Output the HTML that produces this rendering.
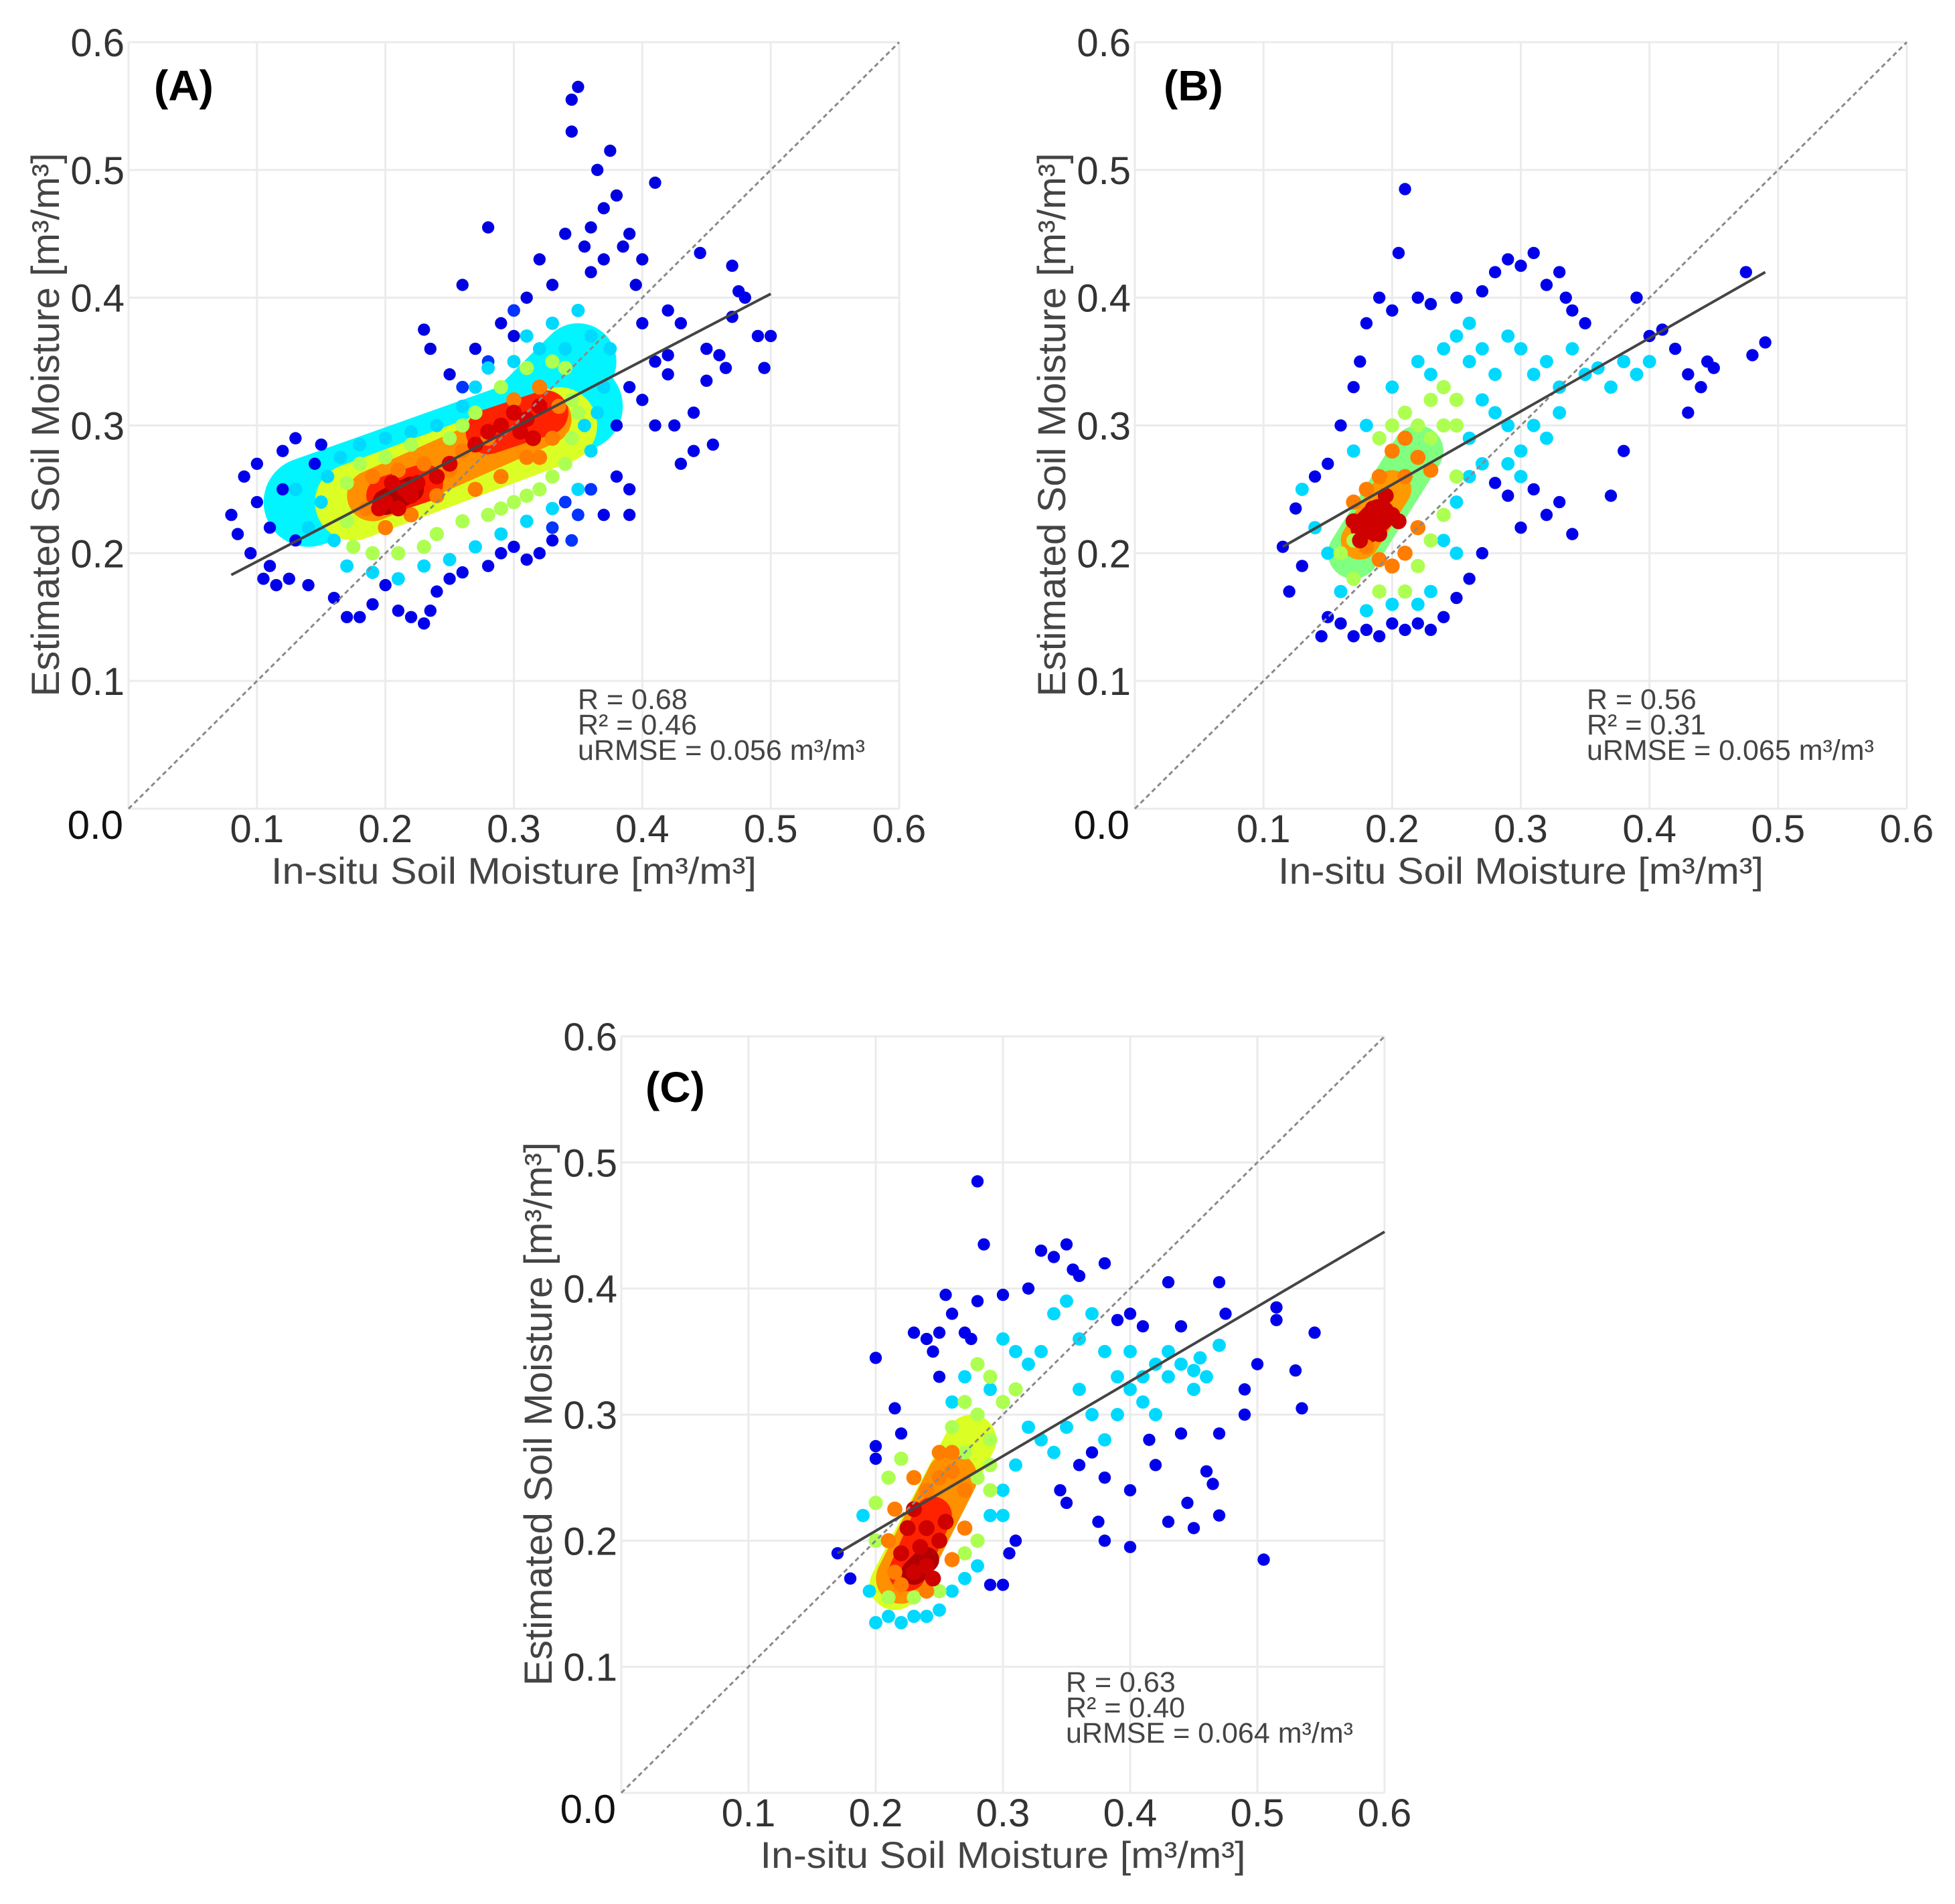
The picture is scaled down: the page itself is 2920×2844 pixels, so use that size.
<!DOCTYPE html>
<html><head><meta charset="utf-8"><style>
html,body{margin:0;padding:0;background:#fff;}
svg{display:block;font-family:"Liberation Sans",Arial,sans-serif;}
</style></head><body>
<svg id="fig" width="2920" height="2844" viewBox="0 0 2920 2844" xmlns="http://www.w3.org/2000/svg"></svg>
<script>
// ---------- Panel A data ----------
const xA=[0.08,0.085,0.09,0.095,0.10,0.10,0.105,0.11,0.11,0.115,0.12,0.12,0.125,0.13,0.13,0.14,0.145,0.15,
0.16,0.17,0.18,0.19,0.20,0.21,0.22,0.23,0.235,0.25,0.24,0.26,0.28,0.29,0.30,0.31,0.32,0.33,
0.23,0.235,0.26,0.28,0.25,0.27,0.29,0.3,0.31,0.32,0.33,0.34,0.345,0.35,0.345,0.355,0.36,0.365,0.37,0.375,0.38,0.385,0.39,0.40,0.41,0.395,0.37,0.36,
0.40,0.41,0.42,0.42,0.425,0.43,0.44,0.445,0.45,0.45,0.455,0.46,0.465,0.47,0.47,0.475,0.48,0.49,0.495,0.5,0.44,0.43,0.39,0.39,0.38,0.37,0.38,0.39,0.40,0.41,0.42,
0.33,0.34,0.35,0.36,0.345,0.28,0.26,0.3,
0.13,0.14,0.15,0.155,0.16,0.165,0.17,0.18,0.19,0.2,0.21,0.22,0.23,0.24,0.25,0.26,0.27,0.27,0.28,0.29,0.30,0.31,0.32,0.33,0.34,0.35,0.36,0.36,0.37,0.375,0.35,0.33,0.31,0.355,0.365,
0.17,0.17,0.175,0.18,0.19,0.2,0.21,0.22,0.23,0.24,0.25,0.26,0.26,0.27,0.28,0.29,0.30,0.31,0.32,0.33,0.34,0.345,0.345,0.34,0.33,0.31,0.29,0.35,
0.185,0.19,0.2,0.21,0.22,0.23,0.24,0.25,0.26,0.27,0.28,0.29,0.30,0.31,0.32,0.33,0.335,0.32,
0.20,0.205,0.21,0.215,0.225,0.22,0.195,0.29,0.30,0.31,0.32,0.305,0.24,0.27,0.28,0.25,0.315];
const yA=[0.23,0.215,0.26,0.20,0.27,0.24,0.18,0.22,0.19,0.175,0.28,0.25,0.18,0.21,0.29,0.175,0.27,0.285,
0.165,0.15,0.15,0.16,0.175,0.155,0.15,0.145,0.155,0.18,0.17,0.185,0.19,0.2,0.205,0.195,0.2,0.21,
0.375,0.36,0.41,0.455,0.34,0.36,0.38,0.37,0.4,0.43,0.41,0.45,0.555,0.565,0.53,0.44,0.42,0.50,0.47,0.515,0.48,0.44,0.45,0.43,0.49,0.41,0.43,0.455,
0.38,0.35,0.39,0.34,0.30,0.27,0.31,0.435,0.36,0.335,0.285,0.355,0.345,0.425,0.385,0.405,0.4,0.37,0.345,0.37,0.28,0.38,0.25,0.23,0.26,0.23,0.30,0.33,0.32,0.30,0.355,
0.22,0.24,0.23,0.25,0.21,0.35,0.33,0.39,
0.25,0.22,0.24,0.26,0.21,0.275,0.19,0.285,0.185,0.29,0.18,0.295,0.19,0.30,0.195,0.315,0.205,0.33,0.345,0.215,0.35,0.225,0.36,0.235,0.36,0.25,0.37,0.28,0.33,0.36,0.39,0.38,0.37,0.30,0.31,
0.225,0.255,0.205,0.27,0.2,0.275,0.2,0.285,0.205,0.215,0.29,0.225,0.30,0.31,0.23,0.235,0.24,0.245,0.25,0.26,0.27,0.29,0.32,0.345,0.35,0.345,0.33,0.31,
0.235,0.26,0.22,0.265,0.23,0.27,0.245,0.265,0.28,0.25,0.29,0.26,0.32,0.275,0.33,0.29,0.315,0.275,
0.24,0.255,0.235,0.25,0.255,0.245,0.235,0.3,0.31,0.305,0.315,0.295,0.26,0.285,0.295,0.27,0.29];
const dA=[].concat(Array(18).fill(0.06),Array(18).fill(0.06),Array(28).fill(0.05),Array(31).fill(0.06),Array(8).fill(0.14),
Array(35).fill(0.32),Array(28).fill(0.55),Array(18).fill(0.78),Array(17).fill(0.96));
const lineA=[[0.08,0.183],[0.5,0.403]];
// density regions: [x1,y1,x2,y2,width(data),level]
const denA=[[0.14,0.24,0.35,0.315,0.07,0.35],[0.31,0.31,0.35,0.35,0.06,0.35],
[0.175,0.24,0.335,0.30,0.06,0.6],[0.19,0.245,0.325,0.305,0.04,0.76],
[0.2,0.245,0.23,0.255,0.03,0.88],[0.28,0.295,0.325,0.31,0.035,0.88],[0.2,0.24,0.22,0.25,0.02,1.0]];

// ---------- Panel B data ----------
const xB=[0.115,0.12,0.125,0.13,0.14,0.15,0.16,0.17,0.175,0.18,0.19,0.2,0.205,0.21,0.22,0.23,0.25,0.27,0.28,0.29,0.3,0.31,0.32,0.33,0.335,0.34,0.35,0.39,0.4,0.41,0.42,0.43,0.44,0.445,0.43,0.45,0.475,0.48,0.49,0.38,0.37,0.34,0.33,0.32,0.31,0.3,0.29,0.28,0.27,0.26,0.25,0.24,0.23,0.22,0.21,0.2,0.19,0.18,0.17,0.16,0.15,0.145,
0.25,0.26,0.27,0.28,0.29,0.3,0.31,0.32,0.33,0.34,0.35,0.36,0.37,0.38,0.39,0.4,0.3,0.31,0.32,0.33,0.29,0.28,0.27,0.3,0.29,0.27,0.26,0.24,0.25,0.23,0.22,0.2,0.18,0.16,0.15,0.14,0.13,0.26,0.24,0.23,0.22,0.2,0.18,0.17,0.26,0.25,
0.23,0.24,0.25,0.21,0.2,0.19,0.22,0.24,0.25,0.23,0.22,0.21,0.19,0.17,0.16,0.17,0.24,0.23,0.25,
0.2,0.21,0.22,0.23,0.21,0.19,0.18,0.17,0.22,0.21,0.19,0.18,0.2,
0.17,0.18,0.185,0.19,0.2,0.195,0.175,0.205];
const yB=[0.205,0.17,0.235,0.19,0.26,0.27,0.30,0.33,0.35,0.38,0.40,0.39,0.435,0.485,0.40,0.395,0.40,0.405,0.42,0.43,0.425,0.435,0.41,0.42,0.40,0.39,0.38,0.40,0.37,0.375,0.36,0.34,0.33,0.35,0.31,0.345,0.42,0.355,0.365,0.28,0.245,0.215,0.24,0.23,0.25,0.22,0.245,0.255,0.2,0.18,0.165,0.15,0.14,0.145,0.14,0.145,0.135,0.14,0.135,0.145,0.15,0.135,
0.37,0.38,0.36,0.34,0.37,0.36,0.34,0.35,0.33,0.36,0.34,0.345,0.33,0.35,0.34,0.35,0.28,0.3,0.29,0.31,0.3,0.31,0.32,0.26,0.27,0.27,0.29,0.21,0.2,0.17,0.16,0.16,0.155,0.17,0.2,0.22,0.25,0.35,0.36,0.34,0.35,0.33,0.30,0.28,0.26,0.24,
0.32,0.33,0.32,0.31,0.3,0.29,0.30,0.30,0.30,0.29,0.19,0.17,0.17,0.18,0.2,0.21,0.23,0.21,0.26,
0.28,0.29,0.275,0.265,0.26,0.26,0.25,0.24,0.22,0.2,0.195,0.205,0.19,
0.225,0.22,0.235,0.215,0.23,0.245,0.21,0.225];
const dB=[].concat(Array(62).fill(0.06),Array(46).fill(0.32),Array(19).fill(0.55),Array(13).fill(0.78),Array(8).fill(0.97));
const lineB=[[0.115,0.205],[0.49,0.42]];
const denB=[[0.17,0.2,0.22,0.28,0.04,0.5],[0.175,0.21,0.2,0.25,0.03,0.75],[0.18,0.22,0.19,0.23,0.025,0.97]];

// ---------- Panel C data ----------
const xC=[0.17,0.18,0.2,0.2,0.2,0.215,0.22,0.23,0.24,0.245,0.25,0.25,0.255,0.26,0.27,0.275,0.28,0.28,0.285,0.3,0.32,0.33,0.34,0.35,0.355,0.36,0.38,0.39,0.4,0.41,0.43,0.44,0.47,0.475,0.5,0.515,0.515,0.53,0.535,0.545,0.49,0.49,0.47,0.46,0.465,0.47,0.45,0.445,0.43,0.4,0.38,0.375,0.38,0.4,0.42,0.415,0.44,0.345,0.35,0.305,0.31,0.29,0.3,0.505,0.36,0.37,
0.3,0.31,0.32,0.33,0.34,0.35,0.36,0.37,0.38,0.39,0.4,0.41,0.42,0.43,0.44,0.45,0.46,0.455,0.47,0.42,0.41,0.39,0.38,0.37,0.36,0.35,0.34,0.33,0.32,0.31,0.3,0.29,0.3,0.28,0.27,0.26,0.25,0.24,0.23,0.22,0.21,0.2,0.195,0.19,0.26,0.27,0.29,0.4,0.43,0.45,
0.28,0.29,0.27,0.28,0.3,0.29,0.26,0.27,0.29,0.28,0.29,0.27,0.28,0.25,0.23,0.21,0.2,0.2,0.21,0.22,0.31,
0.27,0.26,0.25,0.24,0.23,0.215,0.21,0.215,0.22,0.24,0.26,0.27,0.26,0.25,
0.225,0.23,0.235,0.24,0.245,0.23,0.25,0.255,0.24,0.22];
const yC=[0.19,0.17,0.345,0.275,0.265,0.305,0.285,0.365,0.36,0.35,0.33,0.365,0.395,0.38,0.365,0.36,0.39,0.485,0.435,0.395,0.4,0.43,0.425,0.435,0.415,0.41,0.42,0.375,0.38,0.37,0.405,0.37,0.405,0.38,0.34,0.385,0.375,0.335,0.305,0.365,0.30,0.32,0.285,0.255,0.245,0.22,0.21,0.23,0.215,0.195,0.2,0.215,0.25,0.24,0.26,0.28,0.285,0.24,0.23,0.19,0.2,0.165,0.165,0.185,0.26,0.27,
0.36,0.35,0.34,0.35,0.38,0.39,0.36,0.38,0.35,0.33,0.32,0.33,0.34,0.33,0.34,0.335,0.33,0.345,0.355,0.3,0.31,0.3,0.28,0.3,0.32,0.29,0.27,0.28,0.29,0.26,0.24,0.22,0.22,0.18,0.17,0.16,0.145,0.14,0.14,0.135,0.14,0.135,0.16,0.22,0.31,0.33,0.32,0.35,0.35,0.32,
0.34,0.33,0.31,0.30,0.31,0.28,0.29,0.27,0.26,0.25,0.24,0.19,0.2,0.16,0.155,0.155,0.2,0.23,0.25,0.265,0.32,
0.24,0.255,0.25,0.24,0.25,0.225,0.2,0.175,0.165,0.16,0.185,0.21,0.27,0.27,
0.21,0.225,0.195,0.18,0.17,0.175,0.2,0.215,0.21,0.19];
const dC=[].concat(Array(66).fill(0.06),Array(50).fill(0.32),Array(21).fill(0.55),Array(14).fill(0.78),Array(10).fill(0.97));
const lineC=[[0.17,0.19],[0.6,0.445]];
const denC=[[0.215,0.165,0.275,0.28,0.04,0.6],[0.22,0.17,0.26,0.25,0.04,0.76],[0.225,0.175,0.245,0.22,0.03,0.88],[0.23,0.175,0.24,0.185,0.02,1.0]];

const ticks=[0.1,0.2,0.3,0.4,0.5,0.6];
const tickLabels=["0.1","0.2","0.3","0.4","0.5","0.6"];
const statsA=["R = 0.68","R² = 0.46","uRMSE = 0.056 m³/m³"];
const statsB=["R = 0.56","R² = 0.31","uRMSE = 0.065 m³/m³"];
const statsC=["R = 0.63","R² = 0.40","uRMSE = 0.064 m³/m³"];

const NS="http://www.w3.org/2000/svg";
const svg=document.getElementById('fig');
function mk(tag,attrs,parent){const e=document.createElementNS(NS,tag);for(const k in attrs)e.setAttribute(k,attrs[k]);(parent||svg).appendChild(e);return e;}
function jet(v){
  const r=Math.min(1,Math.max(0,1.5-Math.abs(4*v-3)));
  const g=Math.min(1,Math.max(0,1.5-Math.abs(4*v-2)));
  const b=Math.min(1,Math.max(0,1.5-Math.abs(4*v-1)));
  return `rgb(${Math.round(r*255)},${Math.round(g*255)},${Math.round(b*255)})`;
}
function panel(cfg){
  const g=mk('g',{});
  
  
  const sx=v=>cfg.x0+(cfg.x1-cfg.x0)*v/0.6;
  const sy=v=>cfg.y0-(cfg.y0-cfg.y1)*v/0.6;
  const grid=mk('g',{},g);
  
  
  ticks.forEach(t=>{
    mk('line',{x1:sx(t),x2:sx(t),y1:sy(0),y2:sy(0.6),stroke:'#ebebeb','stroke-width':3},grid);
    mk('line',{x1:sx(0),x2:sx(0.6),y1:sy(t),y2:sy(t),stroke:'#ebebeb','stroke-width':3},grid);
  });
  mk('line',{x1:sx(0),x2:sx(0),y1:sy(0),y2:sy(0.6),stroke:'#ebebeb','stroke-width':3},grid);
  mk('line',{x1:sx(0),x2:sx(0.6),y1:sy(0),y2:sy(0),stroke:'#ebebeb','stroke-width':3},grid);
  const dg=mk('g',{},g);
  
  
  const py=(cfg.y0-cfg.y1)/0.6;
  cfg.den.forEach(d=>{
    const l=mk('line',{x1:sx(d[0]),y1:sy(d[1]),x2:sx(d[2]),y2:sy(d[3]),stroke:jet(0.05+d[5]*0.9),'stroke-width':d[4]*py,'stroke-linecap':'round'},dg);
    
    
  });
  const idx=cfg.xs.map((_,i)=>i).sort((a,b)=>cfg.ds[a]-cfg.ds[b]);
  const pg=mk('g',{},g);
  
  
  idx.forEach(i=>{
    const d=cfg.ds[i];
    const c=mk('circle',{cx:sx(cfg.xs[i]),cy:sy(cfg.ys[i]),r:9+d*3,fill:jet(0.05+d*0.9)},pg);
    
    
  });
  const dl=mk('line',{x1:sx(0),y1:sy(0),x2:sx(0.6),y2:sy(0.6),stroke:'#8a8a8a','stroke-width':3,'stroke-dasharray':'7,5'},g);
  
  
  const rl=mk('line',{x1:sx(cfg.line[0][0]),y1:sy(cfg.line[0][1]),x2:sx(cfg.line[1][0]),y2:sy(cfg.line[1][1]),stroke:'#444','stroke-width':4},g);
  
  
  ticks.forEach((t,i)=>{
    const xt=mk('text',{x:sx(t),y:sy(0)+50,'font-size':58,fill:'#333','text-anchor':'middle'},g);
    xt.textContent=tickLabels[i];
    
    
    const yt=mk('text',{x:sx(0)-6,y:sy(t)+21,'font-size':58,fill:'#333','text-anchor':'end'},g);
    yt.textContent=tickLabels[i];
    
    
  });
  const z=mk('text',{x:sx(0)-8,y:sy(0)+45,'font-size':60,fill:'#111','text-anchor':'end'},g);
  z.textContent='0.0';
  
  
  const cx=(sx(0)+sx(0.6))/2, cy=(sy(0)+sy(0.6))/2;
  const xtl=mk('text',{x:cx,y:sy(0)+112,'font-size':56,fill:'#444','text-anchor':'middle',textLength:725,lengthAdjust:'spacingAndGlyphs'},g);
  xtl.textContent='In-situ Soil Moisture [m³/m³]';
  
  
  const ytl=mk('text',{x:0,y:0,'font-size':58,fill:'#444','text-anchor':'middle',textLength:812,lengthAdjust:'spacingAndGlyphs',transform:`translate(${sx(0)-104},${cy-1}) rotate(-90)`},g);
  ytl.textContent='Estimated Soil Moisture [m³/m³]';
  
  
  const pl=mk('text',{x:cfg.labelX,y:cfg.labelY,'font-size':64,'font-weight':'bold',fill:'#000'},g);
  pl.textContent=cfg.label;
  
  
  cfg.stats.forEach((s,i)=>{
    const st=mk('text',{x:cfg.statX,y:cfg.statY+i*38,'font-size':43,fill:'#444'},g);
    st.textContent=s;
    
    
  });
}
panel({id:'a',x0:192,x1:1343,y0:1208,y1:63,xs:xA,ys:yA,ds:dA,den:denA,line:lineA,label:'(A)',labelX:230,labelY:150,stats:statsA,statX:863,statY:1059});
panel({id:'b',x0:1695,x1:2848,y0:1208,y1:63,xs:xB,ys:yB,ds:dB,den:denB,line:lineB,label:'(B)',labelX:1738,labelY:150,stats:statsB,statX:2370,statY:1059});
panel({id:'c',x0:928,x1:2068,y0:2678,y1:1548,xs:xC,ys:yC,ds:dC,den:denC,line:lineC,label:'(C)',labelX:964,labelY:1646,stats:statsC,statX:1592,statY:2527});
</script>
</body></html>
